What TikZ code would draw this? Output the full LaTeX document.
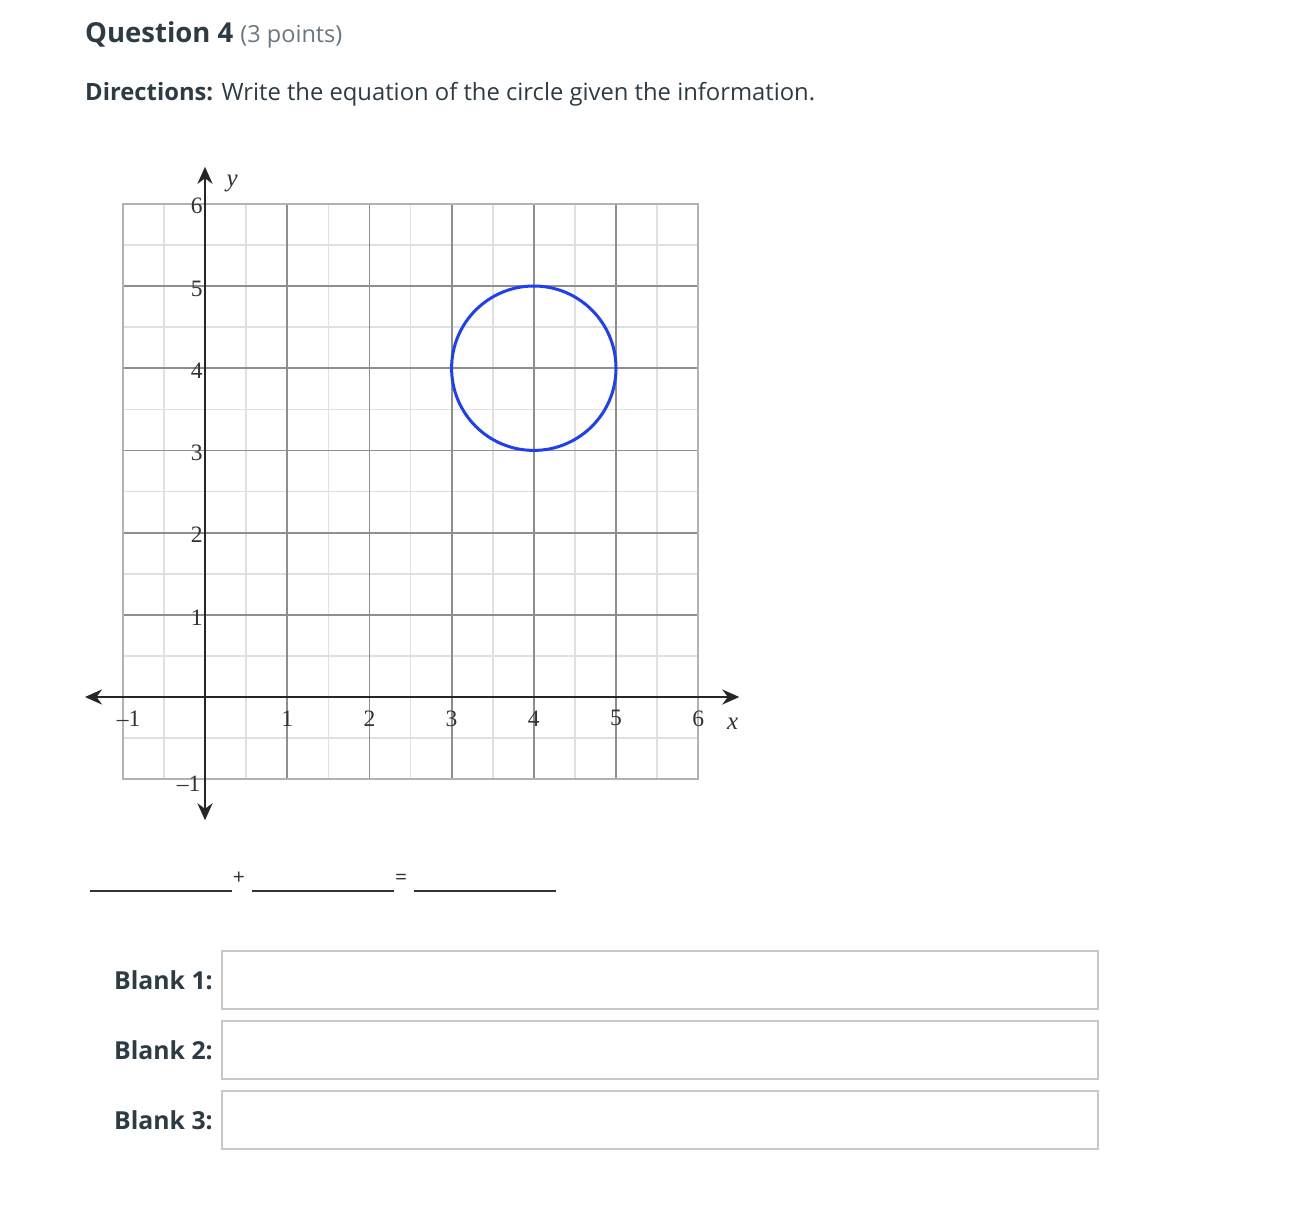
\documentclass[tikz,border=0pt]{standalone}
\usepackage{fontspec}
\setmainfont{Open Sans}
\newfontfamily\numfont{Liberation Serif}
\usetikzlibrary{arrows.meta}
\definecolor{txt}{HTML}{2D3B45}
\definecolor{graytxt}{HTML}{6B7780}
\definecolor{majorgrid}{HTML}{8E8E8E}
\definecolor{minorgrid}{HTML}{E0E0E0}
\definecolor{boxline}{HTML}{C8C8C8}
\definecolor{circblue}{HTML}{1F3FF0}
\definecolor{lbl}{HTML}{333333}
\tikzset{
  title/.style={anchor=base west, inner sep=0pt, text=txt, font=\fontsize{27.5}{32}\selectfont},
  dirtext/.style={anchor=base west, inner sep=0pt, text=txt, font=\fontsize{23.8}{28}\selectfont},
  blanklbl/.style={anchor=base east, inner sep=0pt, text=txt, font=\bfseries\fontsize{24.8}{29}\selectfont},
  ansbox/.style={draw=boxline, line width=2pt, fill=white, minimum width=876pt, minimum height=58pt, anchor=north west, inner sep=0pt},
  eqline/.style={draw=lbl, line width=2pt},
  eqsym/.style={inner sep=0pt, text=lbl, font=\fontsize{21}{24}\selectfont},
  tick/.style={inner sep=0pt, text=lbl, font=\numfont\fontsize{23.5}{26}\selectfont},
  axis/.style={line width=2.6pt, draw=black!85, -{Stealth[length=17pt,width=15pt]}},
}
\begin{document}
\begin{tikzpicture}[x=1pt,y=-1pt]
\useasboundingbox (0,0) rectangle (1312,1205);
\fill[white] (0,0) rectangle (1312,1205);

% header
\node[title] (q) at (85,42) {\textbf{Question 4} \textcolor{graytxt}{\fontsize{23.5}{27}\selectfont(3 points)}};
\node[dirtext] (d) at (85,100) {\textbf{Directions:} Write the equation of the circle given the information.};

% graph
\begin{scope}[shift={(205,697)}]
\begin{scope}[x=82.2pt,y=82.2pt]
  % minor grid
  \foreach \v in {-0.5,0.5,1.5,2.5,3.5,4.5,5.5} {
    \draw[minorgrid, line width=1.6pt] (\v,-1) -- (\v,6);
    \draw[minorgrid, line width=1.6pt] (-1,\v) -- (6,\v);
  }
  % major grid
  \foreach \v in {1,...,5} {
    \draw[majorgrid, line width=1.8pt] (\v,-1) -- (\v,6);
    \draw[majorgrid, line width=1.8pt] (-1,\v) -- (6,\v);
  }
  \draw[boxline!70!gray, line width=1.8pt] (-1,-1) rectangle (6,6);
  % axes
  \coordinate (xl) at (-1.46,0);
  \coordinate (xr) at (6.5,0);
  \coordinate (yb) at (0,-1.5);
  \coordinate (yt) at (0,6.45);
  \coordinate (o) at (0,0);
  \draw[axis] (o) -- (xr);
  \draw[axis] (o) -- (xl);
  \draw[axis] (o) -- (yt);
  \draw[axis] (o) -- (yb);
  % circle
  \node[draw=circblue, line width=3pt, circle, minimum size=164.4pt, inner sep=0pt] (c) at (4,4) {};
  % x labels
  \node[tick] (xm1) at (-0.93,-0.26) {\textendash1};
  \foreach \v in {1,...,6} { \node[tick] (x\v) at (\v,-0.26) {\v}; }
  \node[tick, font=\numfont\itshape\fontsize{25}{28}\selectfont] (xlab) at (6.42,-0.33) {x};
  % y labels
  \foreach \v in {1,...,6} { \node[tick] (y\v) at (-0.1,\v-0.03) {\v}; }
  \node[tick] (ym1) at (-0.2,-1.06) {\textendash1};
  \node[tick, font=\numfont\itshape\fontsize{25}{28}\selectfont] (ylab) at (0.33,6.25) {y};
\end{scope}
\end{scope}

% equation line
\coordinate (a1) at (90,891); \coordinate (a2) at (232,891);
\coordinate (b1) at (252,891); \coordinate (b2) at (394,891);
\coordinate (c1) at (414,891); \coordinate (c2) at (556,891);
\draw[eqline] (a1) -- (a2);
\draw[eqline] (b1) -- (b2);
\draw[eqline] (c1) -- (c2);
\node[eqsym] (plus) at (239,878) {+};
\node[eqsym] (eq) at (401,879) {=};

% blanks
\node[blanklbl] (l1) at (213,989) {Blank 1:};
\node[ansbox] (b1box) at (221,950) {};
\node[blanklbl] (l2) at (213,1059) {Blank 2:};
\node[ansbox] (b2box) at (221,1020) {};
\node[blanklbl] (l3) at (213,1129) {Blank 3:};
\node[ansbox] (b3box) at (221,1090) {};
\end{tikzpicture}
\end{document}
